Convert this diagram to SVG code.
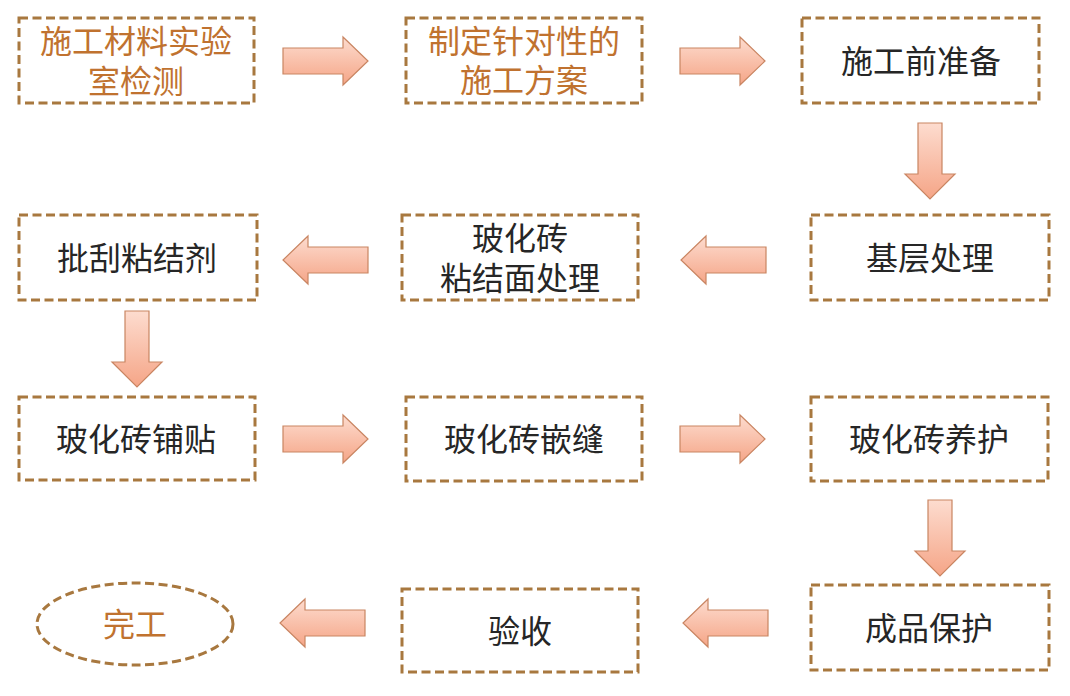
<svg xmlns="http://www.w3.org/2000/svg" xmlns:xlink="http://www.w3.org/1999/xlink" width="1070" height="696" viewBox="0 0 1070 696">
<style>
.box{fill:#fff;stroke:#A8783F;stroke-width:3;stroke-dasharray:9 4.5}
.t{font-family:"Noto Sans CJK SC","Noto Sans",sans-serif;font-size:32px;text-anchor:middle;dominant-baseline:central;fill:#262626}
.o{fill:#C0722F}
.arr{fill:url(#g);stroke:#C98562;stroke-width:1.2}
.arrd{fill:url(#gd);stroke:#C98562;stroke-width:1.2}
</style>
<defs>
<linearGradient id="g" x1="0" y1="0" x2="0" y2="1">
<stop offset="0" stop-color="#FDDCCF"/>
<stop offset="1" stop-color="#F5A587"/>
</linearGradient>
<linearGradient id="gd" x1="0" y1="0" x2="0" y2="1">
<stop offset="0" stop-color="#FDDCCF"/>
<stop offset="1" stop-color="#F5A587"/>
</linearGradient>
<path id="aR" d="M0,-13 H60 V-24 L85,0 L60,24 V13 H0 Z"/>
<path id="aD" d="M-12,0 V51 H-25 L0,76 L25,51 H12 V0 Z"/>
</defs>
<rect width="1070" height="696" fill="#fff"/>
<g id="connectors">
<use xlink:href="#aR" class="arr" transform="translate(283,61)"/>
<use xlink:href="#aR" class="arr" transform="translate(680,61)"/>
<use xlink:href="#aD" class="arrd" transform="translate(930,123)"/>
<use xlink:href="#aR" class="arr" transform="translate(766,260) scale(-1,1)"/>
<use xlink:href="#aR" class="arr" transform="translate(368,260) scale(-1,1)"/>
<use xlink:href="#aD" class="arrd" transform="translate(137,311)"/>
<use xlink:href="#aR" class="arr" transform="translate(283,439)"/>
<use xlink:href="#aR" class="arr" transform="translate(680,439)"/>
<use xlink:href="#aD" class="arrd" transform="translate(940,500)"/>
<use xlink:href="#aR" class="arr" transform="translate(768,623) scale(-1,1)"/>
<use xlink:href="#aR" class="arr" transform="translate(365,623) scale(-1,1)"/>
</g>
<g id="n1"><rect class="box" x="19" y="18" width="235" height="85"/><text class="t o"><tspan x="136" y="39">施工材料实验</tspan><tspan x="136" y="79">室检测</tspan></text></g>
<g id="n2"><rect class="box" x="406" y="18" width="236" height="85"/><text class="t o"><tspan x="524" y="39">制定针对性的</tspan><tspan x="524" y="78">施工方案</tspan></text></g>
<g id="n3"><rect class="box" x="802" y="18" width="237" height="85"/><text class="t" x="921" y="59">施工前准备</text></g>
<g id="n4"><rect class="box" x="811" y="215" width="238" height="85"/><text class="t" x="930" y="256">基层处理</text></g>
<g id="n5"><rect class="box" x="402" y="215" width="236" height="85"/><text class="t"><tspan x="520" y="236">玻化砖</tspan><tspan x="520" y="276">粘结面处理</tspan></text></g>
<g id="n6"><rect class="box" x="19" y="215" width="238" height="85"/><text class="t" x="137" y="256">批刮粘结剂</text></g>
<g id="n7"><rect class="box" x="19" y="397" width="236" height="83"/><text class="t" x="136" y="437">玻化砖铺贴</text></g>
<g id="n8"><rect class="box" x="406" y="397" width="236" height="84"/><text class="t" x="524" y="437">玻化砖嵌缝</text></g>
<g id="n9"><rect class="box" x="811" y="397" width="237" height="84"/><text class="t" x="929" y="437">玻化砖养护</text></g>
<g id="n10"><rect class="box" x="811" y="585" width="238" height="85"/><text class="t" x="929" y="626">成品保护</text></g>
<g id="n11"><rect class="box" x="402" y="589" width="236" height="83"/><text class="t" x="520" y="629">验收</text></g>
<g id="n12"><ellipse class="box" cx="135" cy="624" rx="98" ry="41"/><text class="t o" x="135" y="622">完工</text></g>
</svg>
